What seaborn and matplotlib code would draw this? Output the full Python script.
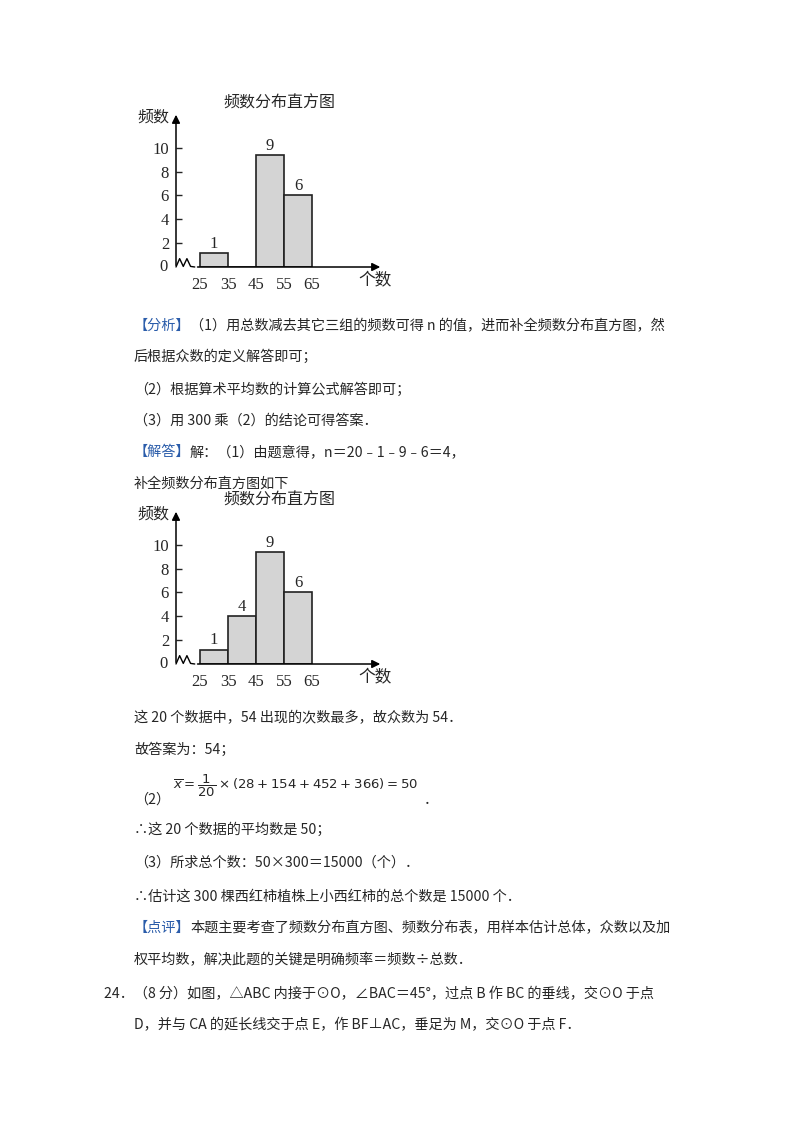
import matplotlib
matplotlib.use("Agg")
import matplotlib.pyplot as plt
import seaborn as sns
import numpy as np

sns.set_style("white")
plt.rcParams['font.family'] = ['Noto Sans CJK SC', 'DejaVu Sans']
plt.rcParams['mathtext.fontset'] = 'dejavusans'

bins = [25, 35, 45, 55, 65]
mids1 = [30, 50, 60]
counts1 = [1.2, 9.4, 6]
labels1 = ["1", "9", "6"]
mids2 = [30, 40, 50, 60]
counts2 = [1.2, 4, 9.4, 6]
labels2 = ["1", "4", "9", "6"]
yticks = [0, 2, 4, 6, 8, 10]
xticks = [25, 35, 45, 55, 65]

W, H = 800, 1132
fig = plt.figure(figsize=(8, 11.32), dpi=100)

def fx(x): return x / W
def fy(y): return 1 - y / H

serif = ['Liberation Serif']
cfs = 12

def hist(y0, mids, counts, labels):
    ax = fig.add_axes([fx(176), fy(y0), (390 - 176) / W, 155 / H])
    x0 = 25 - 24 / 2.8
    ax.set_xlim(x0, x0 + 214 / 2.8)
    ax.set_ylim(0, 13.0)
    sns.histplot(x=mids, weights=counts, bins=bins, ax=ax, color='#d4d4d4',
                 edgecolor='#222222', linewidth=1.2, alpha=1)
    for m, c, l in zip(mids, counts, labels):
        ax.text(m, c + 0.1, l, ha='center', va='bottom', fontsize=cfs, family=serif)
    for s in ax.spines.values():
        s.set_visible(False)
    ax.set_xlabel(""); ax.set_ylabel("")
    ax.set_yticks(yticks[1:])
    ax.set_yticklabels([str(t) for t in yticks[1:]], family=serif, fontsize=cfs)
    ax.tick_params(axis='y', direction='in', length=4, width=1, pad=5, left=True)
    ax.set_xticks([])
    ax.patch.set_alpha(0)
    ax.annotate("", xy=(x0, 13.0), xytext=(x0, -0.1),
                arrowprops=dict(arrowstyle='-|>', color='black', lw=1.1, mutation_scale=12),
                annotation_clip=False)
    zx = [x0, x0 + 1.3, x0 + 2.6, x0 + 3.9, x0 + 5.2, x0 + 6.7]
    zy = [0, 0.7, 0.05, 0.7, 0.05, 0.0]
    ax.plot(zx, zy, color='black', lw=1.0, clip_on=False)
    ax.annotate("", xy=(x0 + 207 / 2.8, 0), xytext=(x0 + 6.7, 0),
                arrowprops=dict(arrowstyle='-|>', color='black', lw=1.1, mutation_scale=12),
                annotation_clip=False)
    for t in xticks:
        ax.text(t, -0.8, str(t), ha='center', va='top', fontsize=cfs, family=serif)
    fig.text(fx(163), fy(y0), "0", ha='center', va='center', fontsize=cfs, family=serif)
    fig.text(fx(375), fy(y0 + 14), "个数", ha='center', va='center', fontsize=12)
    fig.text(fx(153), fy(y0 - 150), "频数", ha='center', va='center', fontsize=11.5)
    fig.text(fx(279), fy(y0 - 164), "频数分布直方图", ha='center', va='center', fontsize=11.5)

hist(267, mids1, counts1, labels1)
hist(664, mids2, counts2, labels2)

blue = '#2a5caa'
fs = 10.2
def line(x, y, s, **kw):
    fig.text(fx(x), fy(y), s, ha='left', va='center', fontsize=fs, **kw)

line(134, 326, "【分析】", color=blue)
line(190, 326, "（1）用总数减去其它三组的频数可得 n 的值，进而补全频数分布直方图，然")
line(134, 357, "后根据众数的定义解答即可；")
line(134, 390, "（2）根据算术平均数的计算公式解答即可；")
line(134, 421, "（3）用 300 乘（2）的结论可得答案．")
line(134, 452, "【解答】", color=blue)
line(190, 452, "解：（1）由题意得，n＝20﹣1﹣9﹣6＝4，")
line(134, 484, "补全频数分布直方图如下")
line(134, 718, "这 20 个数据中，54 出现的次数最多，故众数为 54．")
line(134, 750, "故答案为：54；")
line(134, 800, "（2）")
fig.text(fx(173), fy(786), r"$\overline{x}=\dfrac{1}{20}\times(28+154+452+366)=50$",
         ha='left', va='center', fontsize=9.5)
fig.text(fx(424), fy(800), "．", ha='left', va='center', fontsize=fs)
line(134, 830, "∴这 20 个数据的平均数是 50；")
line(134, 863, "（3）所求总个数：50×300＝15000（个）．")
line(134, 897, "∴估计这 300 棵西红柿植株上小西红柿的总个数是 15000 个．")
line(134, 928, "【点评】", color=blue)
line(190, 928, "本题主要考查了频数分布直方图、频数分布表，用样本估计总体，众数以及加")
line(134, 960, "权平均数，解决此题的关键是明确频率＝频数÷总数．")
line(104, 994, "24．（8 分）如图，△ABC 内接于⊙O，∠BAC＝45°，过点 B 作 BC 的垂线，交⊙O 于点")
line(134, 1025, "D，并与 CA 的延长线交于点 E，作 BF⊥AC，垂足为 M，交⊙O 于点 F．")

fig.savefig("out.png", dpi=100, facecolor='white')
